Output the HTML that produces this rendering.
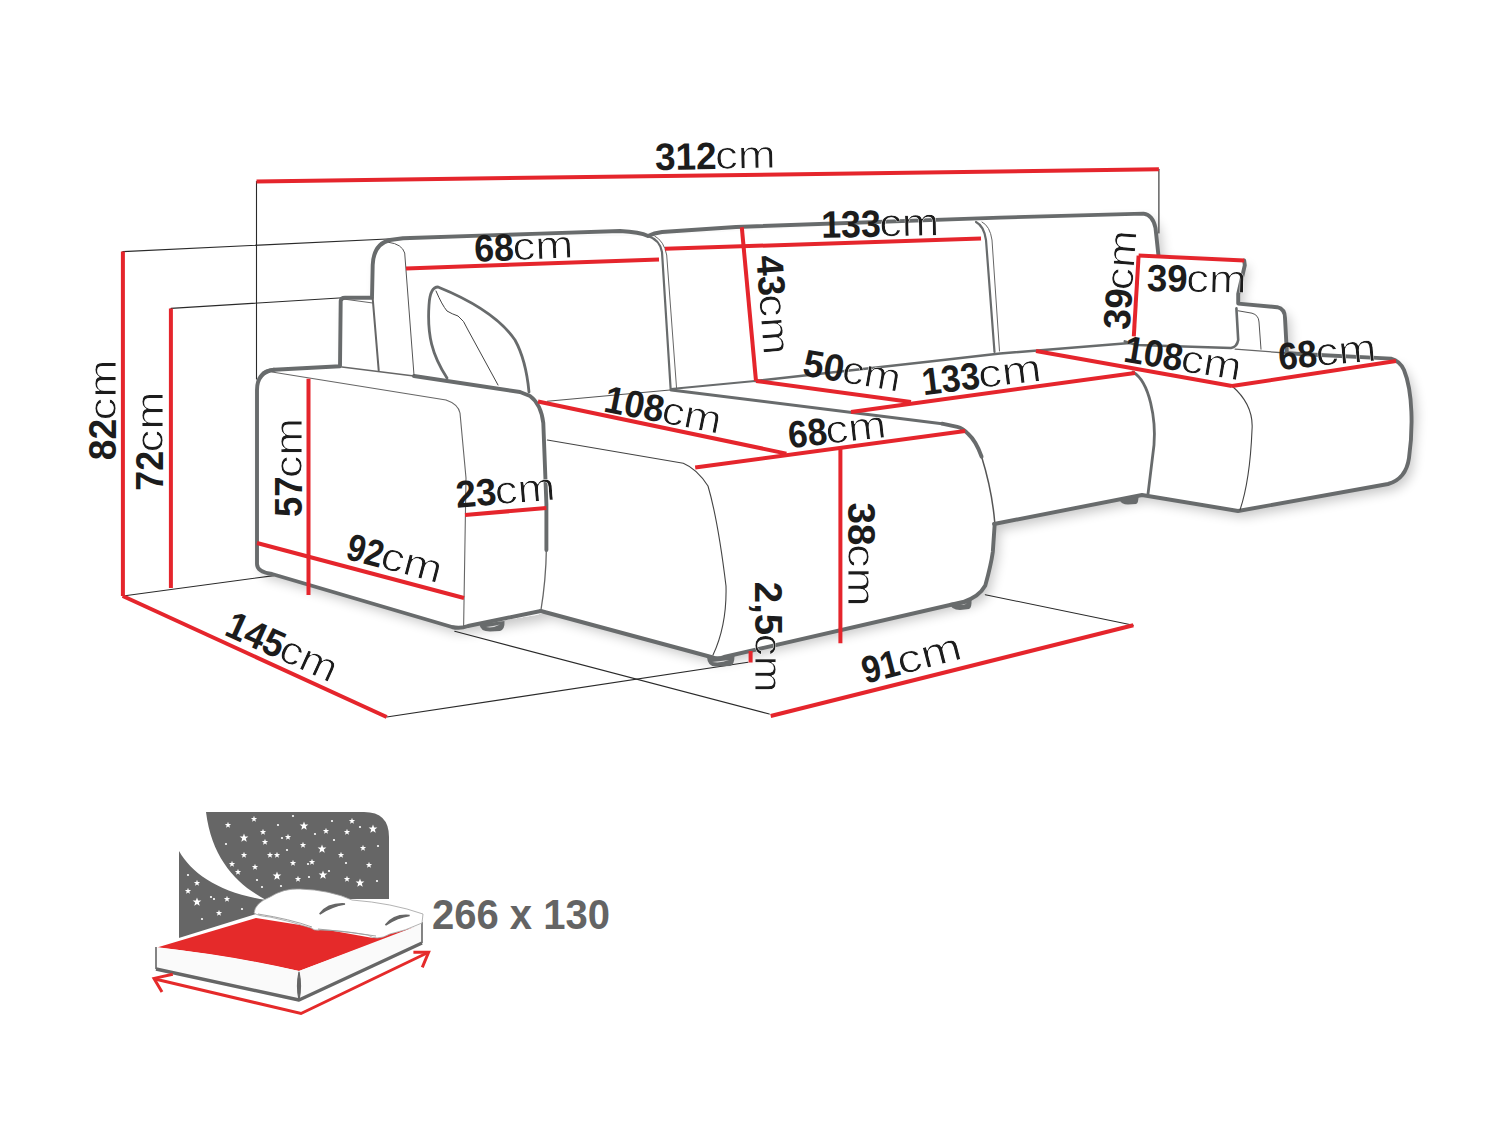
<!DOCTYPE html>
<html><head><meta charset="utf-8"><style>
html,body{margin:0;padding:0;background:#fff;}
svg{display:block;}
text{font-family:"Liberation Sans",sans-serif;fill:#1c1c1c;}
.c{stroke:#fff;stroke-width:0.8px;paint-order:normal;}
</style></head><body>
<svg width="1500" height="1125" viewBox="0 0 1500 1125">
<defs><filter id="sh" x="-10%" y="-10%" width="120%" height="130%"><feGaussianBlur in="SourceAlpha" stdDeviation="6"/><feOffset dx="5" dy="6" result="o"/><feComponentTransfer><feFuncA type="linear" slope="0.22"/></feComponentTransfer><feMerge><feMergeNode/><feMergeNode in="SourceGraphic"/></feMerge></filter></defs>
<path filter="url(#sh)" fill="#fff" d="M257,385 Q258,372 272,372 L341,366 L341,301 L372,297.7 L372.7,265 Q374,244 390,240 L403,238 L648,236 L1000,217.6 L1143.5,213.6 Q1153,215 1156,228 L1158.4,255 L1244,261 L1238,294 L1238,303.6 L1277,307 Q1285,309 1285,318 L1286.8,352 L1396,361 Q1410,372 1412,410 L1408,460 Q1405,478 1388,484 L1238,511 L1142,495 L994.7,524 L992.8,552 L985,585 Q979,597 963,601 L724,655.5 L710,657 L546,612 L537,614.8 L468,626 L452,627 L272,574 Q257,572 257,564 Z"/>
<path d="M256.5,181.5 V379" fill="none" stroke="#2a2a2a" stroke-width="1.1" stroke-linecap="round" stroke-linejoin="round" />
<path d="M1158.9,169.3 V233" fill="none" stroke="#2a2a2a" stroke-width="1.1" stroke-linecap="round" stroke-linejoin="round" />
<path d="M122.8,251.6 L403,238.3" fill="none" stroke="#2a2a2a" stroke-width="1.1" stroke-linecap="round" stroke-linejoin="round" />
<path d="M171,308.4 L343,297.7" fill="none" stroke="#2a2a2a" stroke-width="1.1" stroke-linecap="round" stroke-linejoin="round" />
<path d="M123,596 L274,575.6" fill="none" stroke="#2a2a2a" stroke-width="1.1" stroke-linecap="round" stroke-linejoin="round" />
<path d="M386.7,717 L748,662.3" fill="none" stroke="#2a2a2a" stroke-width="1.1" stroke-linecap="round" stroke-linejoin="round" />
<path d="M454.7,631.3 L769.3,714" fill="none" stroke="#2a2a2a" stroke-width="1.1" stroke-linecap="round" stroke-linejoin="round" />
<path d="M985.3,594.7 L1133.3,625.3" fill="none" stroke="#2a2a2a" stroke-width="1.1" stroke-linecap="round" stroke-linejoin="round" />
<path d="M262,375 Q265,370.5 274,369.7 L340,366.3 L340.7,301 Q341,297.7 345,297.7 L372,297.7 L372.7,265 Q373.5,244 390,240 L403,238.3 L540,233.6 L620,231 Q640,232 648,236 Q654,233 662,232 L736,227 L1000,217.6 L1143.5,213.6 Q1153,215 1155.5,228 L1158.4,255" fill="none" stroke="#686b6c" stroke-width="3.9" stroke-linecap="round" stroke-linejoin="round" />
<path d="M274,369.7 Q257,372 257,390 L257,564 Q257,572 272,574 L452,627 Q460,629 468,626 L540.8,611" fill="none" stroke="#686b6c" stroke-width="3.9" stroke-linecap="round" stroke-linejoin="round" />
<path d="M540.8,611 Q546,580 546.4,548" fill="none" stroke="#666" stroke-width="1.3" stroke-linecap="round" stroke-linejoin="round" />
<path d="M546.4,550 L546.4,504 L543.3,423 Q541,404 530,396 L520,392 L414,376" fill="none" stroke="#686b6c" stroke-width="3.9" stroke-linecap="round" stroke-linejoin="round" />
<path d="M342,367 L414,376" fill="none" stroke="#666" stroke-width="1.6" stroke-linecap="round" stroke-linejoin="round" />
<path d="M272,372 L446,400 Q458,404 460,413 L466,478 L463.6,627.5" fill="none" stroke="#666" stroke-width="1.1" stroke-linecap="round" stroke-linejoin="round" />
<path d="M372.7,298.3 L378.7,370.3" fill="none" stroke="#666" stroke-width="2" stroke-linecap="round" stroke-linejoin="round" />
<path d="M343.3,299 L372.7,303" fill="none" stroke="#666" stroke-width="1" stroke-linecap="round" stroke-linejoin="round" />
<path d="M388.7,242.3 Q402,244 404.7,253 L414,375" fill="none" stroke="#555" stroke-width="1" stroke-linecap="round" stroke-linejoin="round" />
<path d="M447,378 C432,355 427,335 429,305 Q430,287 438,287 C470,300 500,318 515,340 Q526,360 529,392" fill="none" stroke="#686b6c" stroke-width="2.8" stroke-linecap="round" stroke-linejoin="round" />
<path d="M436,291 Q442,305 447,311 Q452,314 458,316 Q464,320 468,330 L498,385" fill="none" stroke="#444" stroke-width="1" stroke-linecap="round" stroke-linejoin="round" />
<path d="M540.8,611 L713,657.5 Q718,659.5 724,657 L963,602 Q979,597 985.3,585.5 Q991,565 992.8,552 L994.7,524" fill="none" stroke="#686b6c" stroke-width="3.9" stroke-linecap="round" stroke-linejoin="round" />
<path d="M994.7,522 Q992,490 981.6,456.7" fill="none" stroke="#555" stroke-width="1.5" stroke-linecap="round" stroke-linejoin="round" />
<path d="M981.6,456.7 Q976,441 968.5,434.3 Q963,428 957.3,426.8 L942,423.7" fill="none" stroke="#686b6c" stroke-width="3.9" stroke-linecap="round" stroke-linejoin="round" />
<path d="M942,423.7 L671.3,390" fill="none" stroke="#686b6c" stroke-width="3" stroke-linecap="round" stroke-linejoin="round" />
<path d="M547.3,401.3 L670,390" fill="none" stroke="#555" stroke-width="1.1" stroke-linecap="round" stroke-linejoin="round" />
<path d="M547.3,440 L683.3,463.3 Q697,469 708,486 Q718,520 726,586 Q727,625 713,655" fill="none" stroke="#444" stroke-width="1.1" stroke-linecap="round" stroke-linejoin="round" />
<path d="M648,236 Q660,240 662,252 L670.7,390" fill="none" stroke="#686b6c" stroke-width="2.2" stroke-linecap="round" stroke-linejoin="round" />
<path d="M654.7,236 Q664,241 666.7,255 L676.7,390" fill="none" stroke="#666" stroke-width="1" stroke-linecap="round" stroke-linejoin="round" />
<path d="M976,222 Q984,226 986,240 L994.5,352" fill="none" stroke="#686b6c" stroke-width="2.2" stroke-linecap="round" stroke-linejoin="round" />
<path d="M982,222 Q990,226 992,240 L999.5,351" fill="none" stroke="#666" stroke-width="1" stroke-linecap="round" stroke-linejoin="round" />
<path d="M671,389 L755,381" fill="none" stroke="#686b6c" stroke-width="2" stroke-linecap="round" stroke-linejoin="round" />
<path d="M755,381 L930,361.5 L1000,353.5 L1130,343" fill="none" stroke="#686b6c" stroke-width="2.6" stroke-linecap="round" stroke-linejoin="round" />
<path d="M1133,372 C1150,382 1156,420 1154,445 L1148,494" fill="none" stroke="#686b6c" stroke-width="2.8" stroke-linecap="round" stroke-linejoin="round" />
<path d="M994,524 L1142,495 L1238,511 L1388,484 Q1406,479 1409,458 C1413,430 1413,392 1404,370 Q1400,361 1391,358.6 L1300,354 L1286,353" fill="none" stroke="#686b6c" stroke-width="3.9" stroke-linecap="round" stroke-linejoin="round" />
<path d="M1244.2,260.4 L1244.8,265.2 L1238.2,294 L1238.2,303.6 L1277.2,307.2 Q1285,309 1285,318 L1286.8,351.6" fill="none" stroke="#686b6c" stroke-width="3.9" stroke-linecap="round" stroke-linejoin="round" />
<path d="M1124.8,341.4 L1136.8,345 L1231,348 Q1237,347 1238.2,340 L1236.4,308.4" fill="none" stroke="#686b6c" stroke-width="2.6" stroke-linecap="round" stroke-linejoin="round" />
<path d="M1238.2,310.8 L1252,313.2 Q1258.6,315 1259,322 L1261,349.2" fill="none" stroke="#555" stroke-width="1" stroke-linecap="round" stroke-linejoin="round" />
<path d="M1235.2,349.2 L1286,353" fill="none" stroke="#666" stroke-width="1.3" stroke-linecap="round" stroke-linejoin="round" />
<path d="M1232,386 Q1254,405 1252,430 Q1250,480 1240,510" fill="none" stroke="#444" stroke-width="1.1" stroke-linecap="round" stroke-linejoin="round" />
<path fill="#686b6c" d="M479.5,624 Q480,631.5 490,631.5 L500,631 Q505,629.5 504.5,621 Z M486,627 Q493,628.5 500,624.5 Q493,626 486,627 Z" fill-rule="evenodd"/>
<path fill="#686b6c" d="M707,657 Q707.5,666.5 716,666.5 L730,666 Q734.5,665 734.5,656 Z M712,662 Q721,663.5 729,660 Q721,661 712,662 Z" fill-rule="evenodd"/>
<path fill="#686b6c" d="M949.5,603 Q951,610 960,610 L969,609 Q972,607.5 971.5,600 Z M960,605 Q964,605 967,603.5 Q963,604 960,605 Z" fill-rule="evenodd"/>
<path fill="#686b6c" d="M1119.5,499.5 Q1121,504.5 1128,504.5 L1136,504 Q1138.5,503 1138.5,496.5 Z"/>
<line x1="256.5" y1="181.5" x2="1158.9" y2="169.3" stroke="#e5252c" stroke-width="4"/>
<line x1="122.9" y1="251.6" x2="122.9" y2="596" stroke="#e5252c" stroke-width="4"/>
<line x1="170.9" y1="308.4" x2="170.9" y2="588" stroke="#e5252c" stroke-width="4"/>
<line x1="308.5" y1="378.8" x2="308.5" y2="595" stroke="#e5252c" stroke-width="4"/>
<line x1="257" y1="543" x2="464" y2="598" stroke="#e5252c" stroke-width="4"/>
<line x1="465" y1="515" x2="546.4" y2="508" stroke="#e5252c" stroke-width="4"/>
<line x1="122.7" y1="596" x2="386.7" y2="717" stroke="#e5252c" stroke-width="4"/>
<line x1="406" y1="268.4" x2="659" y2="259.6" stroke="#e5252c" stroke-width="4"/>
<line x1="665" y1="248.8" x2="981" y2="238.6" stroke="#e5252c" stroke-width="4"/>
<line x1="741.8" y1="227.2" x2="756" y2="381" stroke="#e5252c" stroke-width="4"/>
<line x1="756" y1="381" x2="911" y2="402" stroke="#e5252c" stroke-width="4"/>
<line x1="851" y1="412" x2="1135" y2="373" stroke="#e5252c" stroke-width="4"/>
<line x1="538" y1="401.5" x2="786.4" y2="453.6" stroke="#e5252c" stroke-width="4"/>
<line x1="695.2" y1="467.5" x2="965.2" y2="431" stroke="#e5252c" stroke-width="4"/>
<line x1="840.4" y1="447" x2="840.4" y2="643.2" stroke="#e5252c" stroke-width="4"/>
<line x1="750.6" y1="651" x2="750.6" y2="662.5" stroke="#e5252c" stroke-width="4"/>
<line x1="770.7" y1="716" x2="1133.3" y2="625.3" stroke="#e5252c" stroke-width="4"/>
<line x1="1138.6" y1="255.6" x2="1133.8" y2="336.4" stroke="#e5252c" stroke-width="4"/>
<line x1="1138.6" y1="255.6" x2="1244.2" y2="260.6" stroke="#e5252c" stroke-width="4"/>
<line x1="1036" y1="351" x2="1232" y2="386" stroke="#e5252c" stroke-width="4"/>
<line x1="1232" y1="386" x2="1396" y2="361" stroke="#e5252c" stroke-width="4"/>
<g transform="translate(656.7,170.0) rotate(-0.99)"><text x="-1.5" y="0" font-size="38" font-weight="bold" textLength="61.6" lengthAdjust="spacingAndGlyphs">312</text><clipPath id="k1"><text x="58.6" y="0" font-size="39.5" textLength="60.7" lengthAdjust="spacingAndGlyphs">cm</text></clipPath><text class="c" clip-path="url(#k1)" x="58.6" y="0" font-size="39.5" textLength="60.7" lengthAdjust="spacingAndGlyphs">cm</text></g>
<g transform="translate(476.2,261.8) rotate(-2.45)"><text x="-1.5" y="0" font-size="38" font-weight="bold" textLength="39.8" lengthAdjust="spacingAndGlyphs">68</text><clipPath id="k2"><text x="36.8" y="0" font-size="39.5" textLength="60.9" lengthAdjust="spacingAndGlyphs">cm</text></clipPath><text class="c" clip-path="url(#k2)" x="36.8" y="0" font-size="39.5" textLength="60.9" lengthAdjust="spacingAndGlyphs">cm</text></g>
<g transform="translate(826.0,237.7) rotate(-1.15)"><text x="-4.5" y="0" font-size="38" font-weight="bold" textLength="59.6" lengthAdjust="spacingAndGlyphs">133</text><clipPath id="k3"><text x="53.6" y="0" font-size="39.5" textLength="59.9" lengthAdjust="spacingAndGlyphs">cm</text></clipPath><text class="c" clip-path="url(#k3)" x="53.6" y="0" font-size="39.5" textLength="59.9" lengthAdjust="spacingAndGlyphs">cm</text></g>
<g transform="translate(756.3,257.8) rotate(85.74)"><text x="-1.5" y="0" font-size="38" font-weight="bold" textLength="40.4" lengthAdjust="spacingAndGlyphs">43</text><clipPath id="k4"><text x="37.4" y="0" font-size="39.5" textLength="60.8" lengthAdjust="spacingAndGlyphs">cm</text></clipPath><text class="c" clip-path="url(#k4)" x="37.4" y="0" font-size="39.5" textLength="60.8" lengthAdjust="spacingAndGlyphs">cm</text></g>
<g transform="translate(1129.5,328.8) rotate(-85.80)"><text x="-1.5" y="0" font-size="38" font-weight="bold" textLength="41.0" lengthAdjust="spacingAndGlyphs">39</text><clipPath id="k5"><text x="38.0" y="0" font-size="39.5" textLength="60.2" lengthAdjust="spacingAndGlyphs">cm</text></clipPath><text class="c" clip-path="url(#k5)" x="38.0" y="0" font-size="39.5" textLength="60.2" lengthAdjust="spacingAndGlyphs">cm</text></g>
<g transform="translate(1148.2,291.0) rotate(1.09)"><text x="-1.5" y="0" font-size="38" font-weight="bold" textLength="40.8" lengthAdjust="spacingAndGlyphs">39</text><clipPath id="k6"><text x="37.8" y="0" font-size="39.5" textLength="60.4" lengthAdjust="spacingAndGlyphs">cm</text></clipPath><text class="c" clip-path="url(#k6)" x="37.8" y="0" font-size="39.5" textLength="60.4" lengthAdjust="spacingAndGlyphs">cm</text></g>
<g transform="translate(116.0,458.8) rotate(-90.00)"><text x="-1.5" y="0" font-size="38" font-weight="bold" textLength="41.4" lengthAdjust="spacingAndGlyphs">82</text><clipPath id="k7"><text x="38.4" y="0" font-size="39.5" textLength="60.8" lengthAdjust="spacingAndGlyphs">cm</text></clipPath><text class="c" clip-path="url(#k7)" x="38.4" y="0" font-size="39.5" textLength="60.8" lengthAdjust="spacingAndGlyphs">cm</text></g>
<g transform="translate(163.2,489.2) rotate(-90.00)"><text x="-1.5" y="0" font-size="38" font-weight="bold" textLength="39.8" lengthAdjust="spacingAndGlyphs">72</text><clipPath id="k8"><text x="36.8" y="0" font-size="39.5" textLength="60.8" lengthAdjust="spacingAndGlyphs">cm</text></clipPath><text class="c" clip-path="url(#k8)" x="36.8" y="0" font-size="39.5" textLength="60.8" lengthAdjust="spacingAndGlyphs">cm</text></g>
<g transform="translate(302.4,515.6) rotate(-90.00)"><text x="-1.5" y="0" font-size="38" font-weight="bold" textLength="40.6" lengthAdjust="spacingAndGlyphs">57</text><clipPath id="k9"><text x="37.6" y="0" font-size="39.5" textLength="60.0" lengthAdjust="spacingAndGlyphs">cm</text></clipPath><text class="c" clip-path="url(#k9)" x="37.6" y="0" font-size="39.5" textLength="60.0" lengthAdjust="spacingAndGlyphs">cm</text></g>
<g transform="translate(458.2,507.6) rotate(-4.62)"><text x="-1.5" y="0" font-size="38" font-weight="bold" textLength="40.8" lengthAdjust="spacingAndGlyphs">23</text><clipPath id="k10"><text x="37.8" y="0" font-size="39.5" textLength="60.5" lengthAdjust="spacingAndGlyphs">cm</text></clipPath><text class="c" clip-path="url(#k10)" x="37.8" y="0" font-size="39.5" textLength="60.5" lengthAdjust="spacingAndGlyphs">cm</text></g>
<g transform="translate(346.0,559.0) rotate(14.87)"><text x="-1.5" y="0" font-size="38" font-weight="bold" textLength="36.5" lengthAdjust="spacingAndGlyphs">92</text><clipPath id="k11"><text x="33.5" y="0" font-size="39.5" textLength="62.1" lengthAdjust="spacingAndGlyphs">cm</text></clipPath><text class="c" clip-path="url(#k11)" x="33.5" y="0" font-size="39.5" textLength="62.1" lengthAdjust="spacingAndGlyphs">cm</text></g>
<g transform="translate(227.0,636.0) rotate(24.47)"><text x="-4.5" y="0" font-size="38" font-weight="bold" textLength="60.4" lengthAdjust="spacingAndGlyphs">145</text><clipPath id="k12"><text x="54.4" y="0" font-size="39.5" textLength="59.5" lengthAdjust="spacingAndGlyphs">cm</text></clipPath><text class="c" clip-path="url(#k12)" x="54.4" y="0" font-size="39.5" textLength="59.5" lengthAdjust="spacingAndGlyphs">cm</text></g>
<g transform="translate(607.0,412.0) rotate(11.16)"><text x="-4.5" y="0" font-size="38" font-weight="bold" textLength="60.0" lengthAdjust="spacingAndGlyphs">108</text><clipPath id="k13"><text x="54.0" y="0" font-size="39.5" textLength="60.1" lengthAdjust="spacingAndGlyphs">cm</text></clipPath><text class="c" clip-path="url(#k13)" x="54.0" y="0" font-size="39.5" textLength="60.1" lengthAdjust="spacingAndGlyphs">cm</text></g>
<g transform="translate(791.0,448.1) rotate(-6.36)"><text x="-1.5" y="0" font-size="38" font-weight="bold" textLength="39.0" lengthAdjust="spacingAndGlyphs">68</text><clipPath id="k14"><text x="36.0" y="0" font-size="39.5" textLength="61.0" lengthAdjust="spacingAndGlyphs">cm</text></clipPath><text class="c" clip-path="url(#k14)" x="36.0" y="0" font-size="39.5" textLength="61.0" lengthAdjust="spacingAndGlyphs">cm</text></g>
<g transform="translate(803.1,375.5) rotate(9.81)"><text x="-1.5" y="0" font-size="38" font-weight="bold" textLength="40.9" lengthAdjust="spacingAndGlyphs">50</text><clipPath id="k15"><text x="37.9" y="0" font-size="39.5" textLength="58.9" lengthAdjust="spacingAndGlyphs">cm</text></clipPath><text class="c" clip-path="url(#k15)" x="37.9" y="0" font-size="39.5" textLength="58.9" lengthAdjust="spacingAndGlyphs">cm</text></g>
<g transform="translate(928.0,394.6) rotate(-6.95)"><text x="-4.5" y="0" font-size="38" font-weight="bold" textLength="58.0" lengthAdjust="spacingAndGlyphs">133</text><clipPath id="k16"><text x="52.0" y="0" font-size="39.5" textLength="63.5" lengthAdjust="spacingAndGlyphs">cm</text></clipPath><text class="c" clip-path="url(#k16)" x="52.0" y="0" font-size="39.5" textLength="63.5" lengthAdjust="spacingAndGlyphs">cm</text></g>
<g transform="translate(1127.0,362.3) rotate(9.33)"><text x="-4.5" y="0" font-size="38" font-weight="bold" textLength="59.0" lengthAdjust="spacingAndGlyphs">108</text><clipPath id="k17"><text x="53.0" y="0" font-size="39.5" textLength="60.9" lengthAdjust="spacingAndGlyphs">cm</text></clipPath><text class="c" clip-path="url(#k17)" x="53.0" y="0" font-size="39.5" textLength="60.9" lengthAdjust="spacingAndGlyphs">cm</text></g>
<g transform="translate(1280.9,369.8) rotate(-5.50)"><text x="-1.5" y="0" font-size="38" font-weight="bold" textLength="39.0" lengthAdjust="spacingAndGlyphs">68</text><clipPath id="k18"><text x="36.0" y="0" font-size="39.5" textLength="60.8" lengthAdjust="spacingAndGlyphs">cm</text></clipPath><text class="c" clip-path="url(#k18)" x="36.0" y="0" font-size="39.5" textLength="60.8" lengthAdjust="spacingAndGlyphs">cm</text></g>
<g transform="translate(847.6,504.0) rotate(90.00)"><text x="-1.5" y="0" font-size="38" font-weight="bold" textLength="43.0" lengthAdjust="spacingAndGlyphs">38</text><clipPath id="k19"><text x="40.0" y="0" font-size="39.5" textLength="62.9" lengthAdjust="spacingAndGlyphs">cm</text></clipPath><text class="c" clip-path="url(#k19)" x="40.0" y="0" font-size="39.5" textLength="62.9" lengthAdjust="spacingAndGlyphs">cm</text></g>
<g transform="translate(755.2,583.3) rotate(90.00)"><text x="-1.5" y="0" font-size="38" font-weight="bold" textLength="53.4" lengthAdjust="spacingAndGlyphs">2,5</text><clipPath id="k20"><text x="50.4" y="0" font-size="39.5" textLength="59.1" lengthAdjust="spacingAndGlyphs">cm</text></clipPath><text class="c" clip-path="url(#k20)" x="50.4" y="0" font-size="39.5" textLength="59.1" lengthAdjust="spacingAndGlyphs">cm</text></g>
<g transform="translate(867.0,683.5) rotate(-14.46)"><text x="-1.5" y="0" font-size="38" font-weight="bold" textLength="37.5" lengthAdjust="spacingAndGlyphs">91</text><clipPath id="k21"><text x="34.5" y="0" font-size="39.5" textLength="65.6" lengthAdjust="spacingAndGlyphs">cm</text></clipPath><text class="c" clip-path="url(#k21)" x="34.5" y="0" font-size="39.5" textLength="65.6" lengthAdjust="spacingAndGlyphs">cm</text></g>

<g id="bed">
<path d="M206,812 L364,812 Q389,812 389,837 L389,899 L340,899 L266,910 L266,900 C238,885 212,860 206,812 Z" fill="#666666"/>
<path d="M179,851 C192,874 220,893 266,900 L266,930 L179,940 Z" fill="#666666"/>
<path d="M304.00,821.40 L305.14,824.44 L308.37,824.58 L305.84,826.60 L306.70,829.72 L304.00,827.93 L301.30,829.72 L302.16,826.60 L299.63,824.58 L302.86,824.44Z M373.00,824.40 L374.14,827.44 L377.37,827.58 L374.84,829.60 L375.70,832.72 L373.00,830.93 L370.30,832.72 L371.16,829.60 L368.63,827.58 L371.86,827.44Z M244.00,833.40 L245.14,836.44 L248.37,836.58 L245.84,838.60 L246.70,841.72 L244.00,839.93 L241.30,841.72 L242.16,838.60 L239.63,836.58 L242.86,836.44Z M322.00,844.40 L323.14,847.44 L326.37,847.58 L323.84,849.60 L324.70,852.72 L322.00,850.93 L319.30,852.72 L320.16,849.60 L317.63,847.58 L320.86,847.44Z M277.00,871.40 L278.14,874.44 L281.37,874.58 L278.84,876.60 L279.70,879.72 L277.00,877.93 L274.30,879.72 L275.16,876.60 L272.63,874.58 L275.86,874.44Z M323.00,870.40 L324.14,873.44 L327.37,873.58 L324.84,875.60 L325.70,878.72 L323.00,876.93 L320.30,878.72 L321.16,875.60 L318.63,873.58 L321.86,873.44Z M360.00,878.40 L361.14,881.44 L364.37,881.58 L361.84,883.60 L362.70,886.72 L360.00,884.93 L357.30,886.72 L358.16,883.60 L355.63,881.58 L358.86,881.44Z M197.00,897.40 L198.14,900.44 L201.37,900.58 L198.84,902.60 L199.70,905.72 L197.00,903.93 L194.30,905.72 L195.16,902.60 L192.63,900.58 L195.86,900.44Z M254.00,815.70 L254.81,817.88 L257.14,817.98 L255.32,819.43 L255.94,821.67 L254.00,820.39 L252.06,821.67 L252.68,819.43 L250.86,817.98 L253.19,817.88Z M228.00,821.70 L228.81,823.88 L231.14,823.98 L229.32,825.43 L229.94,827.67 L228.00,826.39 L226.06,827.67 L226.68,825.43 L224.86,823.98 L227.19,823.88Z M352.00,817.70 L352.81,819.88 L355.14,819.98 L353.32,821.43 L353.94,823.67 L352.00,822.39 L350.06,823.67 L350.68,821.43 L348.86,819.98 L351.19,819.88Z M263.00,828.70 L263.81,830.88 L266.14,830.98 L264.32,832.43 L264.94,834.67 L263.00,833.39 L261.06,834.67 L261.68,832.43 L259.86,830.98 L262.19,830.88Z M326.00,827.70 L326.81,829.88 L329.14,829.98 L327.32,831.43 L327.94,833.67 L326.00,832.39 L324.06,833.67 L324.68,831.43 L322.86,829.98 L325.19,829.88Z M347.00,828.70 L347.81,830.88 L350.14,830.98 L348.32,832.43 L348.94,834.67 L347.00,833.39 L345.06,834.67 L345.68,832.43 L343.86,830.98 L346.19,830.88Z M288.00,833.70 L288.81,835.88 L291.14,835.98 L289.32,837.43 L289.94,839.67 L288.00,838.39 L286.06,839.67 L286.68,837.43 L284.86,835.98 L287.19,835.88Z M265.00,838.70 L265.81,840.88 L268.14,840.98 L266.32,842.43 L266.94,844.67 L265.00,843.39 L263.06,844.67 L263.68,842.43 L261.86,840.98 L264.19,840.88Z M303.00,841.70 L303.81,843.88 L306.14,843.98 L304.32,845.43 L304.94,847.67 L303.00,846.39 L301.06,847.67 L301.68,845.43 L299.86,843.98 L302.19,843.88Z M363.00,844.70 L363.81,846.88 L366.14,846.98 L364.32,848.43 L364.94,850.67 L363.00,849.39 L361.06,850.67 L361.68,848.43 L359.86,846.98 L362.19,846.88Z M244.00,851.70 L244.81,853.88 L247.14,853.98 L245.32,855.43 L245.94,857.67 L244.00,856.39 L242.06,857.67 L242.68,855.43 L240.86,853.98 L243.19,853.88Z M270.00,851.70 L270.81,853.88 L273.14,853.98 L271.32,855.43 L271.94,857.67 L270.00,856.39 L268.06,857.67 L268.68,855.43 L266.86,853.98 L269.19,853.88Z M277.00,851.70 L277.81,853.88 L280.14,853.98 L278.32,855.43 L278.94,857.67 L277.00,856.39 L275.06,857.67 L275.68,855.43 L273.86,853.98 L276.19,853.88Z M341.00,851.70 L341.81,853.88 L344.14,853.98 L342.32,855.43 L342.94,857.67 L341.00,856.39 L339.06,857.67 L339.68,855.43 L337.86,853.98 L340.19,853.88Z M232.00,860.70 L232.81,862.88 L235.14,862.98 L233.32,864.43 L233.94,866.67 L232.00,865.39 L230.06,866.67 L230.68,864.43 L228.86,862.98 L231.19,862.88Z M293.00,859.70 L293.81,861.88 L296.14,861.98 L294.32,863.43 L294.94,865.67 L293.00,864.39 L291.06,865.67 L291.68,863.43 L289.86,861.98 L292.19,861.88Z M312.00,858.70 L312.81,860.88 L315.14,860.98 L313.32,862.43 L313.94,864.67 L312.00,863.39 L310.06,864.67 L310.68,862.43 L308.86,860.98 L311.19,860.88Z M255.00,863.70 L255.81,865.88 L258.14,865.98 L256.32,867.43 L256.94,869.67 L255.00,868.39 L253.06,869.67 L253.68,867.43 L251.86,865.98 L254.19,865.88Z M369.00,861.70 L369.81,863.88 L372.14,863.98 L370.32,865.43 L370.94,867.67 L369.00,866.39 L367.06,867.67 L367.68,865.43 L365.86,863.98 L368.19,863.88Z M238.00,868.70 L238.81,870.88 L241.14,870.98 L239.32,872.43 L239.94,874.67 L238.00,873.39 L236.06,874.67 L236.68,872.43 L234.86,870.98 L237.19,870.88Z M347.00,875.70 L347.81,877.88 L350.14,877.98 L348.32,879.43 L348.94,881.67 L347.00,880.39 L345.06,881.67 L345.68,879.43 L343.86,877.98 L346.19,877.88Z M298.00,875.70 L298.81,877.88 L301.14,877.98 L299.32,879.43 L299.94,881.67 L298.00,880.39 L296.06,881.67 L296.68,879.43 L294.86,877.98 L297.19,877.88Z M197.00,879.70 L197.81,881.88 L200.14,881.98 L198.32,883.43 L198.94,885.67 L197.00,884.39 L195.06,885.67 L195.68,883.43 L193.86,881.98 L196.19,881.88Z M188.00,887.70 L188.81,889.88 L191.14,889.98 L189.32,891.43 L189.94,893.67 L188.00,892.39 L186.06,893.67 L186.68,891.43 L184.86,889.98 L187.19,889.88Z M227.00,895.70 L227.81,897.88 L230.14,897.98 L228.32,899.43 L228.94,901.67 L227.00,900.39 L225.06,901.67 L225.68,899.43 L223.86,897.98 L226.19,897.88Z M219.00,909.70 L219.81,911.88 L222.14,911.98 L220.32,913.43 L220.94,915.67 L219.00,914.39 L217.06,915.67 L217.68,913.43 L215.86,911.98 L218.19,911.88Z" fill="#fff"/>
<circle cx="293" cy="816" r="1.1" fill="#fff"/><circle cx="278" cy="825" r="1.1" fill="#fff"/><circle cx="332" cy="821" r="1.1" fill="#fff"/><circle cx="360" cy="827" r="1.1" fill="#fff"/><circle cx="315" cy="834" r="1.1" fill="#fff"/><circle cx="282" cy="838" r="1.1" fill="#fff"/><circle cx="334" cy="840" r="1.1" fill="#fff"/><circle cx="226" cy="844" r="1.1" fill="#fff"/><circle cx="287" cy="850" r="1.1" fill="#fff"/><circle cx="378" cy="846" r="1.1" fill="#fff"/><circle cx="308" cy="864" r="1.1" fill="#fff"/><circle cx="346" cy="863" r="1.1" fill="#fff"/><circle cx="329" cy="871" r="1.1" fill="#fff"/><circle cx="257" cy="880" r="1.1" fill="#fff"/><circle cx="262" cy="887" r="1.1" fill="#fff"/><circle cx="281" cy="886" r="1.1" fill="#fff"/><circle cx="309" cy="877" r="1.1" fill="#fff"/><circle cx="377" cy="881" r="1.1" fill="#fff"/><circle cx="188" cy="875" r="1.1" fill="#fff"/><circle cx="211" cy="897" r="1.1" fill="#fff"/><circle cx="214" cy="899" r="1.1" fill="#fff"/><circle cx="242" cy="909" r="1.1" fill="#fff"/><circle cx="202" cy="919" r="1.1" fill="#fff"/>
<!-- mattress top white edge -->
<path d="M153,946 L256,914 L300,925 L300,945 L153,950 Z" fill="#fff"/>
<!-- red top -->
<path d="M157,947.5 L256,918 L300,925 L373,938 L420,926 L299,971 Q230,955 157,947.5 Z" fill="#e52a2a"/>
<!-- front face -->
<path d="M156,947 Q230,956 299,971 L299,999 L156,969 Z" fill="#fafafa"/>
<path d="M299,971 L422,924 L422,943 L299,999 Z" fill="#fafafa"/>
<path d="M156,947 L156,969" stroke="#666666" stroke-width="1.6" fill="none"/>
<path d="M156,969 L299,1000 L422,943" stroke="#666666" stroke-width="3.4" fill="none" stroke-linejoin="round"/>
<path d="M422,943 L422,922" stroke="#666666" stroke-width="1.6" fill="none"/>
<path d="M299,972 Q302,986 299,1000 Q296,986 299,972 Z" fill="#666666" stroke="#666666" stroke-width="1.2"/>
<!-- pillows -->
<path d="M254,913 Q255,903 270,897 Q284,888 300,889 Q330,890 352,900 Q392,903 423,914 L422,923 Q405,931 390,934 Q383,938 377,938 Q372,938 368,935 Q340,930 320,930 Q314,931 311,928 Q290,921 270,917 Q258,916 254,913 Z" fill="#fff" stroke="#a0a0a0" stroke-width="0.8"/>
<path d="M319.7,914 Q328,903 345,904 Q332,906 319.7,914 Z" fill="#666666" stroke="#666666" stroke-width="1.6"/>
<path d="M385.5,925 Q394,914 409.6,915.5 Q398,917 385.5,925 Z" fill="#666666" stroke="#666666" stroke-width="1.6"/>
<path d="M258,914 Q290,919 312,927" stroke="#9a9a9a" stroke-width="0.9" fill="none"/>
<path d="M318,929 Q350,932 376,936" stroke="#9a9a9a" stroke-width="0.9" fill="none"/>
<!-- red arrow -->
<path d="M155,979 L301,1013.5 L427,953" stroke="#e52a2a" stroke-width="3" fill="none" stroke-linejoin="miter"/>
<path d="M172.8,974.2 L154,978.4 L162,992" stroke="#e52a2a" stroke-width="3" fill="none"/>
<path d="M413.4,952.2 L428.6,952.2 L422.3,967.4" stroke="#e52a2a" stroke-width="3" fill="none"/>
<text x="432" y="928.5" font-size="42.5" font-weight="bold" style="fill:#646464" textLength="178" lengthAdjust="spacingAndGlyphs">266 x 130</text>
</g>

</svg>
</body></html>
